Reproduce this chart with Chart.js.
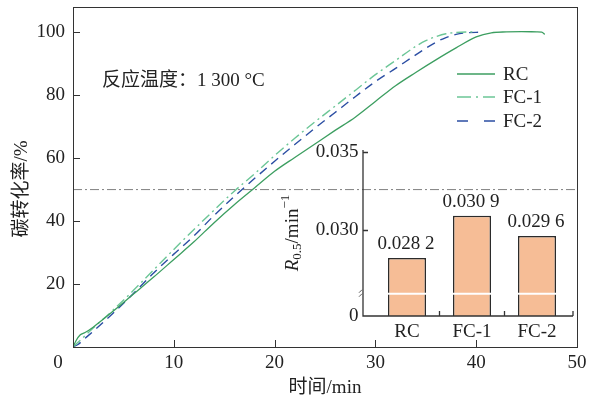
<!DOCTYPE html>
<html>
<head>
<meta charset="utf-8">
<script src="https://cdn.jsdelivr.net/npm/chart.js@4.4.1/dist/chart.umd.min.js"></script>
<style>
    html, body { margin: 0; padding: 0; background: #fff; }
    #wrap { position: relative; width: 595px; height: 399px; }
    #main { position: absolute; left: 0; top: 0; }
    #inset { position: absolute; left: 240px; top: 130px; }
</style>
</head>
<body>
<div id="wrap">
    <canvas id="main" width="595" height="399"></canvas>
    <canvas id="inset" width="355" height="230"></canvas>
</div>
<script>
// ---- main chart data (time in min, carbon conversion in %) ----
const timeRC = [0, 0.3, 0.7, 1.2, 2, 4, 6, 8, 10, 12, 14, 16, 18, 20, 22, 24, 26, 28, 30, 32, 34, 36, 38, 40, 41.5, 43, 44.5, 46, 46.5, 46.8];
const convRC = [0, 2, 3.8, 4.6, 6.3, 11.4, 16.8, 22.2, 27.8, 33.4, 39.5, 45.2, 50.5, 55.8, 60.2, 64.5, 68.8, 73, 78, 83, 87.2, 91.2, 95, 98.5, 99.8, 100.1, 100.2, 100.1, 100, 99.3];

const timeFC1 = [0, 1, 2, 4, 6, 8, 10, 12, 14, 16, 18, 20, 22, 24, 26, 28, 30, 32, 34, 35, 36, 37, 38, 40];
const convFC1 = [0, 3, 6, 11.8, 18, 24.5, 31, 37.3, 43.5, 49.5, 55, 60.8, 66.3, 71.5, 76.5, 81.5, 86.5, 91, 95.5, 97.3, 98.6, 99.5, 99.9, 100.1];

const timeFC2 = [0, 0.5, 1, 2, 4, 6, 8, 10, 12, 14, 16, 18, 20, 22, 24, 26, 28, 30, 32, 34, 36, 37, 38, 39, 40.5];
const convFC2 = [0, 0.8, 2.2, 5, 10.8, 17, 23.5, 29.5, 35.3, 41.8, 47.8, 53.5, 59, 64.3, 69.5, 74.5, 79.5, 84.3, 88.5, 92.8, 96.8, 98.3, 99.3, 99.8, 100];

const seriesNames = ['RC', 'FC-1', 'FC-2'];
const xTicks = [0, 10, 20, 30, 40, 50];
const yTicks = [20, 40, 60, 80, 100];
const refLevel = 50;
const refSpan = [0, 50];

// ---- inset bar chart data ----
const barLabels = ['RC', 'FC-1', 'FC-2'];
const barValues = [0.0282, 0.0309, 0.0296];
const insetMin = 0.02447;
const insetTicks = [0.030, 0.035];
const insetBreak = 0.0259;

const SERIF = '"Liberation Serif", "Noto Sans CJK SC", serif';
Chart.defaults.font.family = SERIF;
Chart.defaults.font.size = 19;
Chart.defaults.color = '#222';

const pts = (xs, ys) => xs.map((x, i) => ({ x: x, y: ys[i] }));

// drop the extra room Chart.js keeps for half-labels at the axis ends
const noEdgePad = s => {
    s.paddingTop = 0;
    s.paddingBottom = 0;
    s.paddingLeft = 0;
    s.paddingRight = 0;
};

// ==========================================
// Main plot extras: frame, inner ticks, titles, legend
// ==========================================
const mainDecor = {
    id: 'mainDecor',
    afterDraw(chart) {
        const ctx = chart.ctx;
        const a = chart.chartArea;
        const xs = chart.scales.x;
        const ys = chart.scales.y;
        ctx.save();
        ctx.strokeStyle = '#333';
        ctx.lineWidth = 1;
        ctx.strokeRect(a.left + 0.5, a.top + 0.5, a.right - a.left, a.bottom - a.top);

        ctx.beginPath();
        xTicks.forEach(v => {
            if (v === xTicks[0] || v === xTicks[xTicks.length - 1]) return;
            const px = Math.round(xs.getPixelForValue(v)) + 0.5;
            ctx.moveTo(px, a.bottom);
            ctx.lineTo(px, a.bottom - 7);
        });
        yTicks.forEach(v => {
            const py = Math.round(ys.getPixelForValue(v)) + 0.5;
            ctx.moveTo(a.left, py);
            ctx.lineTo(a.left + 7, py);
        });
        ctx.stroke();

        ctx.fillStyle = '#222';
        ctx.font = '19px ' + SERIF;
        ctx.textAlign = 'center';
        ctx.textBaseline = 'middle';
        // shared origin label
        ctx.fillText('0', a.left - 15, a.bottom + 16);

        // axis titles
        ctx.fillText('时间/min', (a.left + a.right) / 2, 388);
        ctx.save();
        ctx.translate(22, 189);
        ctx.rotate(-Math.PI / 2);
        ctx.fillText('碳转化率/%', 0, 0);
        ctx.restore();

        // condition note
        ctx.textAlign = 'left';
        ctx.fillText('反应温度：1 300 °C', 102, 81);

        // legend
        const legendY = [74, 97, 121];
        const legendDash = [[], [14, 5, 2, 5], [11, 16]];
        seriesNames.forEach((name, i) => {
            const ds = chart.data.datasets[i + 1];
            ctx.strokeStyle = ds.borderColor;
            ctx.lineWidth = 1.5;
            ctx.setLineDash(legendDash[i]);
            ctx.beginPath();
            ctx.moveTo(457, legendY[i]);
            ctx.lineTo(495, legendY[i]);
            ctx.stroke();
            ctx.setLineDash([]);
            ctx.fillText(name, 503, legendY[i] + 1);
        });
        ctx.restore();
    }
};

new Chart(document.getElementById('main'), {
    type: 'line',
    data: {
        datasets: [
            {
                label: 'half',
                data: refSpan.map(x => ({ x: x, y: refLevel })),
                borderColor: '#808080',
                borderWidth: 1,
                borderDash: [9, 3, 2, 3],
                pointRadius: 0
            },
            {
                label: seriesNames[0],
                data: pts(timeRC, convRC),
                borderColor: '#3c9e60',
                borderWidth: 1.3,
                pointRadius: 0,
                cubicInterpolationMode: 'monotone'
            },
            {
                label: seriesNames[1],
                data: pts(timeFC1, convFC1),
                borderColor: '#6cc697',
                borderWidth: 1.4,
                borderDash: [10, 4, 2, 4],
                pointRadius: 0,
                cubicInterpolationMode: 'monotone'
            },
            {
                label: seriesNames[2],
                data: pts(timeFC2, convFC2),
                borderColor: '#2b4ea3',
                borderWidth: 1.4,
                borderDash: [9, 6],
                pointRadius: 0,
                cubicInterpolationMode: 'monotone'
            }
        ]
    },
    options: {
        responsive: false,
        animation: false,
        layout: { padding: { top: 7, right: 18, left: 0, bottom: 0 } },
        plugins: { legend: { display: false }, tooltip: { enabled: false } },
        scales: {
            x: {
                type: 'linear',
                min: 0,
                max: 50,
                afterBuildTicks: s => { s.ticks = xTicks.map(v => ({ value: v })); },
                afterFit: s => { s.height = 52; noEdgePad(s); },
                grid: { display: false, drawTicks: false },
                border: { display: false },
                ticks: {
                    padding: 5,
                    color: '#222',
                    callback: v => (v === 0 ? '' : v)
                }
            },
            y: {
                min: 0,
                max: 108,
                afterBuildTicks: s => { s.ticks = yTicks.map(v => ({ value: v })); },
                afterFit: s => { s.width = 73; noEdgePad(s); },
                grid: { display: false, drawTicks: false },
                border: { display: false },
                ticks: { padding: 8, color: '#222' }
            }
        }
    },
    plugins: [mainDecor]
});

// ==========================================
// Inset bar chart: axes, break marks, value labels
// ==========================================
const fmtRate = v => {
    const s = v.toFixed(4);
    return s.slice(0, 5) + ' ' + s.slice(5);
};

const insetDecor = {
    id: 'insetDecor',
    afterDraw(chart) {
        const ctx = chart.ctx;
        const a = chart.chartArea;
        const xs = chart.scales.x;
        const ys = chart.scales.y;
        const axisX = a.left - 11.5;
        const axisEnd = a.right + 3.5;
        const topPx = ys.getPixelForValue(insetTicks[insetTicks.length - 1]) - 2;
        ctx.save();
        ctx.strokeStyle = '#333';
        ctx.lineWidth = 1.3;
        ctx.beginPath();
        ctx.moveTo(axisX, topPx);
        ctx.lineTo(axisX, a.bottom);
        ctx.lineTo(axisEnd, a.bottom);
        insetTicks.forEach(v => {
            const py = Math.round(ys.getPixelForValue(v)) + 0.5;
            ctx.moveTo(axisX, py);
            ctx.lineTo(axisX + 5, py);
        });
        const step = xs.getPixelForValue(1) - xs.getPixelForValue(0);
        barLabels.forEach((l, i) => {
            const px = i < barLabels.length - 1 ? xs.getPixelForValue(i) + step / 2 : axisEnd;
            ctx.moveTo(px, a.bottom);
            ctx.lineTo(px, a.bottom - 5);
        });
        ctx.stroke();

        // axis break mark
        const bp = ys.getPixelForValue(insetBreak);
        ctx.lineWidth = 0.8;
        ctx.beginPath();
        ctx.moveTo(axisX - 4, bp - 1);
        ctx.lineTo(axisX - 1, bp - 4);
        ctx.moveTo(axisX - 4, bp + 3);
        ctx.lineTo(axisX - 1, bp);
        ctx.stroke();

        // white break line across bars
        const meta = chart.getDatasetMeta(0);
        ctx.strokeStyle = '#fff';
        ctx.lineWidth = 2;
        meta.data.forEach(bar => {
            ctx.beginPath();
            ctx.moveTo(bar.x - bar.width / 2 - 1.5, bp);
            ctx.lineTo(bar.x + bar.width / 2 + 1.5, bp);
            ctx.stroke();
        });

        // value labels
        ctx.fillStyle = '#222';
        ctx.font = '19px ' + SERIF;
        ctx.textAlign = 'center';
        ctx.textBaseline = 'middle';
        meta.data.forEach((bar, i) => {
            ctx.fillText(fmtRate(barValues[i]), bar.x - 1, bar.y - 14);
        });

        // y title: R_0.5/min^-1
        ctx.save();
        ctx.translate(53, 103);
        ctx.rotate(-Math.PI / 2);
        ctx.textAlign = 'left';
        const parts = [
            { t: 'R', f: 'italic 19px ' + SERIF, dy: 0 },
            { t: '0.5', f: '13px ' + SERIF, dy: 5 },
            { t: '/min', f: '19px ' + SERIF, dy: 0 },
            { t: '\u22121', f: '13px ' + SERIF, dy: -7 }
        ];
        let total = 0;
        parts.forEach(p => { ctx.font = p.f; total += ctx.measureText(p.t).width; });
        let cx = -total / 2;
        parts.forEach(p => {
            ctx.font = p.f;
            ctx.fillText(p.t, cx, p.dy);
            cx += ctx.measureText(p.t).width;
        });
        ctx.restore();
        ctx.restore();
    }
};

new Chart(document.getElementById('inset'), {
    type: 'bar',
    data: {
        labels: barLabels,
        datasets: [{
            data: barValues,
            backgroundColor: '#f6bd96',
            borderColor: '#2b2b2b',
            borderWidth: 1.5,
            categoryPercentage: 1,
            barPercentage: 0.585
        }]
    },
    options: {
        responsive: false,
        animation: false,
        layout: { padding: { top: 22, right: 25.5, left: 0, bottom: 0 } },
        plugins: { legend: { display: false }, tooltip: { enabled: false } },
        scales: {
            x: {
                afterFit: s => { s.height = 44; noEdgePad(s); },
                grid: { display: false, drawTicks: false },
                border: { display: false },
                ticks: { padding: 5, color: '#222' }
            },
            y: {
                min: insetMin,
                max: insetTicks[insetTicks.length - 1],
                afterBuildTicks: s => {
                    s.ticks = [{ value: insetMin }].concat(insetTicks.map(v => ({ value: v })));
                },
                afterFit: s => { s.width = 134.5; noEdgePad(s); },
                grid: { display: false, drawTicks: false },
                border: { display: false },
                ticks: {
                    padding: 16,
                    color: '#222',
                    callback: v => (v === insetMin ? '0' : v.toFixed(3))
                }
            }
        }
    },
    plugins: [insetDecor]
});
</script>
</body>
</html>
